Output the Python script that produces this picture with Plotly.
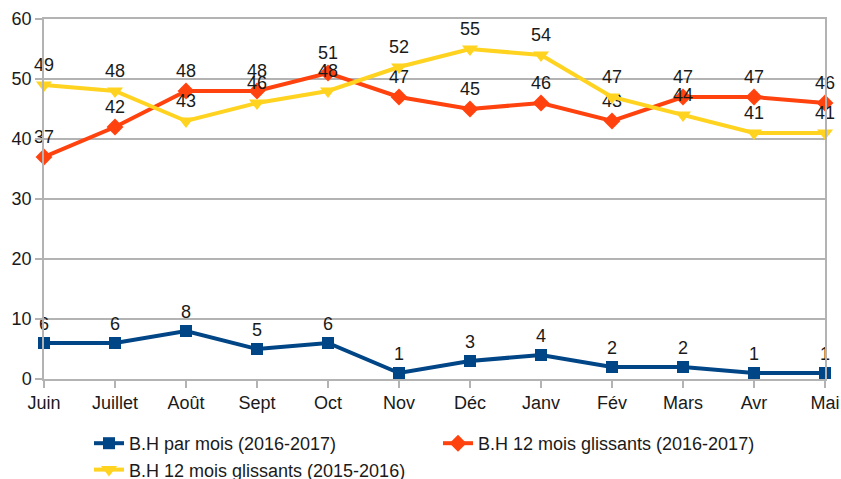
import plotly.graph_objects as go

months = ["Juin", "Juillet", "Août", "Sept", "Oct", "Nov", "Déc", "Janv", "Fév", "Mars", "Avr", "Mai"]
bh_mois_2016_2017 = [6, 6, 8, 5, 6, 1, 3, 4, 2, 2, 1, 1]
bh_glissant_2016_2017 = [37, 42, 48, 48, 51, 47, 45, 46, 43, 47, 47, 46]
bh_glissant_2015_2016 = [49, 48, 43, 46, 48, 52, 55, 54, 47, 44, 41, 41]
y_ticks = [0, 10, 20, 30, 40, 50, 60]

FONT = "Liberation Sans, Arial, sans-serif"
TXT = "#1a1a1a"

series = [
    ("B.H par mois (2016-2017)", bh_mois_2016_2017, "#004586", "square", 12),
    ("B.H 12 mois glissants (2016-2017)", bh_glissant_2016_2017, "#ff420e", "diamond", 13),
    ("B.H 12 mois glissants (2015-2016)", bh_glissant_2015_2016, "#ffd320", "triangle-down", 14),
]

fig = go.Figure()
for name, vals, color, sym, size in series:
    fig.add_trace(go.Scatter(
        x=months, y=vals, name=name, mode="lines+markers+text",
        text=[str(v) for v in vals], textposition="top center",
        textfont=dict(family=FONT, size=18, color=TXT),
        line=dict(color=color, width=4),
        marker=dict(symbol=sym, size=size, color=color),
        cliponaxis=False,
    ))

fig.update_layout(
    width=841, height=479,
    margin=dict(l=44, r=16, t=19, b=100),
    plot_bgcolor="white", paper_bgcolor="white",
    font=dict(family=FONT, size=18, color=TXT),
    showlegend=True,
    legend=dict(
        orientation="h", yref="container", xref="container",
        x=89 / 841, y=1 - 425 / 479, xanchor="left", yanchor="top",
        entrywidth=304, entrywidthmode="pixels",
        font=dict(family=FONT, size=18, color=TXT),
        tracegroupgap=0,
    ),
    xaxis=dict(
        type="category", range=[0, len(months) - 1], automargin=False,
        showgrid=False, showline=True, linecolor="#b3b3b3", linewidth=1.5, mirror=True,
        ticks="outside", ticklen=7, tickcolor="#b3b3b3", tickwidth=1.5,
        tickfont=dict(family=FONT, size=18, color=TXT),
        zeroline=False,
    ),
    yaxis=dict(
        range=[0, 60], tickvals=y_ticks, automargin=False,
        showgrid=True, gridcolor="#b3b3b3", gridwidth=1.5,
        showline=True, linecolor="#b3b3b3", linewidth=1.5, mirror=True,
        ticks="outside", ticklen=7, tickcolor="#b3b3b3", tickwidth=1.5,
        tickfont=dict(family=FONT, size=18, color=TXT),
        zeroline=False,
    ),
)

fig.write_html(
    "out.html",
    config={"displayModeBar": False},
    post_script="document.body.style.margin='0';document.body.style.overflow='hidden';",
)
